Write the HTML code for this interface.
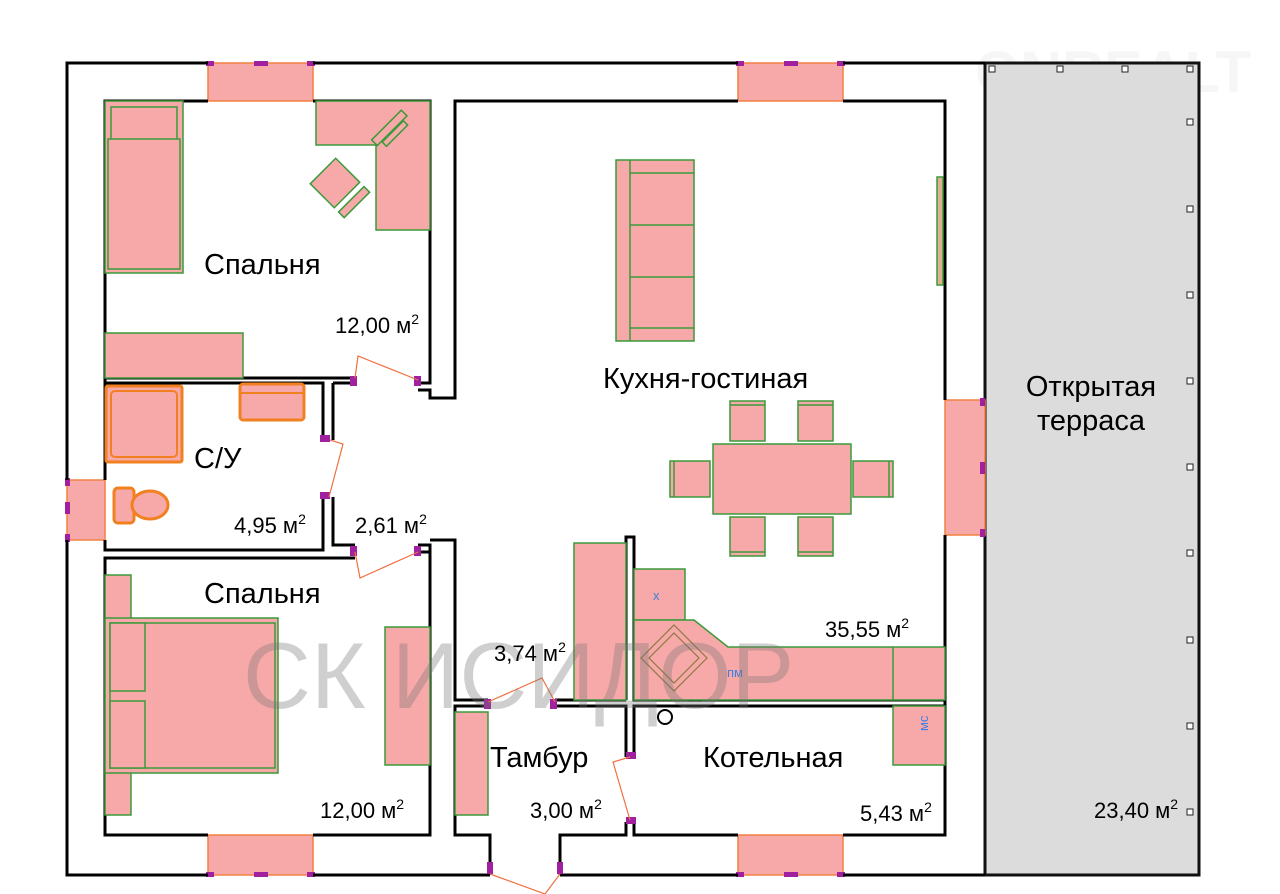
<!DOCTYPE html>
<html><head><meta charset="utf-8"><style>
html,body{margin:0;padding:0;background:#fff;}
svg{display:block}
text{font-family:"Liberation Sans",Arial,sans-serif;}
</style></head><body>
<svg width="1280" height="894" viewBox="0 0 1280 894" xmlns="http://www.w3.org/2000/svg">
<rect width="1280" height="894" fill="#fff"/>
<g opacity="0.07" fill="#888">
<text x="975" y="92" font-size="58" font-weight="bold">ONREALT</text>
<text x="990" y="104" font-size="16" letter-spacing="6">НЕДВИЖИМОСТЬ</text>
</g>
<rect x="985" y="63" width="214" height="812" fill="#dcdcdc" stroke="#111" stroke-width="3"/>
<g fill="#fff" stroke="#222" stroke-width="1">
<rect x="989" y="66" width="6" height="6"/><rect x="1057" y="66" width="6" height="6"/><rect x="1122" y="66" width="6" height="6"/><rect x="1187" y="66" width="6" height="6"/>
<rect x="1187" y="119" width="6" height="6"/><rect x="1187" y="206" width="6" height="6"/><rect x="1187" y="292" width="6" height="6"/><rect x="1187" y="378" width="6" height="6"/><rect x="1187" y="464" width="6" height="6"/><rect x="1187" y="550" width="6" height="6"/><rect x="1187" y="637" width="6" height="6"/><rect x="1187" y="723" width="6" height="6"/><rect x="1187" y="809" width="6" height="6"/>
</g>
<g fill="#f7a8a8" stroke="#f08040" stroke-width="1.5">
<rect x="208" y="63" width="105" height="38"/><rect x="738" y="63" width="105" height="38"/>
<rect x="208" y="835" width="105" height="40"/><rect x="738" y="835" width="105" height="40"/>
<rect x="945" y="400" width="40" height="135"/><rect x="67" y="480" width="38" height="60"/>
</g>
<g fill="#a020a0">
<rect x="206" y="61" width="8" height="5"/><rect x="254" y="61" width="14" height="5"/><rect x="307" y="61" width="8" height="5"/>
<rect x="736" y="61" width="8" height="5"/><rect x="784" y="61" width="14" height="5"/><rect x="837" y="61" width="8" height="5"/>
<rect x="206" y="872" width="8" height="5"/><rect x="254" y="872" width="14" height="5"/><rect x="307" y="872" width="8" height="5"/>
<rect x="736" y="872" width="8" height="5"/><rect x="784" y="872" width="14" height="5"/><rect x="837" y="872" width="8" height="5"/>
<rect x="980" y="398" width="5" height="8"/><rect x="980" y="462" width="5" height="12"/><rect x="980" y="529" width="5" height="8"/>
<rect x="65" y="478" width="5" height="8"/><rect x="65" y="502" width="5" height="12"/><rect x="65" y="534" width="5" height="8"/>
</g>
<g fill="none" stroke="#000" stroke-width="3" stroke-linejoin="miter">
<polyline points="208,63 67,63 67,480"/><polyline points="67,540 67,875 208,875"/>
<line x1="313" y1="63" x2="738" y2="63"/><line x1="843" y1="63" x2="985" y2="63"/>
<line x1="313" y1="875" x2="490" y2="875"/><line x1="560" y1="875" x2="738" y2="875"/><line x1="843" y1="875" x2="985" y2="875"/>
<polyline points="105,480 105,101 208,101"/><polyline points="313,101 430,101 430,383 418,383"/>
<polyline points="105,378 355,378"/>
<polyline points="418,390 430,390 430,398 455,398 455,101 738,101"/><polyline points="843,101 945,101 945,400"/>
<polyline points="945,535 945,835 843,835"/>
<polyline points="105,383 323,383 323,440"/><polyline points="323,497 323,550 105,550 105,540"/>
<polyline points="333,383 355,383"/><polyline points="333,383 333,440"/><polyline points="333,497 333,545 355,545"/>
<polyline points="355,558 105,558 105,835 208,835"/><polyline points="313,835 430,835 430,545 418,545"/>
<polyline points="418,552 430,552"/>
<polyline points="430,540 455,540 455,700 488,700"/>
<polyline points="488,706 455,706 455,835 490,835 490,875"/>
<polyline points="560,875 560,835 626,835 626,822"/>
<polyline points="626,757 626,706 555,706"/><line x1="555" y1="700" x2="626" y2="700"/>
<polyline points="626,700 626,537 634,537 634,700 945,700"/>
<polyline points="634,757 634,706 945,706"/><polyline points="634,822 634,835 738,835"/>
</g>
<g fill="#a020a0">
<rect x="350" y="376" width="7" height="10"/><rect x="414" y="376" width="7" height="10"/>
<rect x="320" y="435" width="10" height="7"/><rect x="320" y="492" width="10" height="7"/>
<rect x="350" y="546" width="7" height="10"/><rect x="414" y="546" width="7" height="10"/>
<rect x="484" y="699" width="7" height="10"/><rect x="550" y="699" width="7" height="10"/>
<rect x="626" y="752" width="10" height="7"/><rect x="626" y="817" width="10" height="7"/>
<rect x="487" y="862" width="6" height="12"/><rect x="557" y="862" width="6" height="12"/>
</g>
<g fill="none" stroke="#f07040" stroke-width="1.2">
<polyline points="355,378 358,356 418,380"/>
<polyline points="330,440 343,444 329,497"/>
<polyline points="355,552 360,578 418,552"/>
<polyline points="488,702 542,678 555,702"/>
<polyline points="630,757 613,762 630,820"/>
<polyline points="490,874 545,894 560,874"/>
</g>
<g fill="#f7a8a8" stroke="#3a9a3a" stroke-width="1.5">
<rect x="105" y="101" width="78" height="172"/><rect x="111" y="107" width="66" height="42"/><rect x="108" y="139" width="72" height="130"/>
<polygon points="316,101 430,101 430,230 376,230 376,145 316,145"/>
<rect x="105" y="333" width="138" height="45"/>
<g transform="rotate(-45 335 183)"><rect x="317" y="166" width="36" height="34"/><rect x="317" y="206" width="36" height="8"/></g>
<g transform="rotate(-45 390 130)" fill="none"><rect x="370" y="124" width="42" height="8"/><rect x="376" y="133" width="30" height="6"/></g>
<rect x="616" y="160" width="78" height="181"/><line x1="630" y1="160" x2="630" y2="341"/><line x1="630" y1="173" x2="694" y2="173"/><line x1="630" y1="225" x2="694" y2="225"/><line x1="630" y1="277" x2="694" y2="277"/><line x1="630" y1="328" x2="694" y2="328"/>
<rect x="937" y="177" width="6" height="108" fill="#e0b090"/>
<rect x="713" y="444" width="138" height="70"/>
<rect x="730" y="401" width="35" height="40"/><rect x="798" y="401" width="35" height="40"/>
<rect x="730" y="517" width="35" height="39"/><rect x="798" y="517" width="35" height="39"/>
<rect x="670" y="461" width="40" height="36"/><rect x="853" y="461" width="40" height="36"/>
<line x1="730" y1="405" x2="765" y2="405"/><line x1="798" y1="405" x2="833" y2="405"/>
<line x1="730" y1="552" x2="765" y2="552"/><line x1="798" y1="552" x2="833" y2="552"/>
<line x1="674" y1="461" x2="674" y2="497"/><line x1="889" y1="461" x2="889" y2="497"/>
<rect x="574" y="543" width="52" height="157"/>
<rect x="634" y="569" width="51" height="51"/>
<polygon points="634,620 694,620 728,647 945,647 945,700 634,700"/>
<line x1="893" y1="647" x2="893" y2="700"/>
<rect x="893" y="706" width="52" height="59"/>
<rect x="455" y="712" width="33" height="103"/>
<rect x="105" y="575" width="26" height="240"/>
<rect x="105" y="618" width="173" height="155"/><rect x="110" y="623" width="165" height="145"/>
<rect x="110" y="623" width="35" height="68"/><rect x="110" y="701" width="35" height="67"/>
<rect x="385" y="627" width="45" height="138"/>
</g>
<g fill="none" stroke="#8a7a40" stroke-width="1.2">
<polygon points="674,625 707,658 674,691 641,658"/><polygon points="674,633 699,658 674,683 649,658"/>
</g>
<g fill="#f7a8a8" stroke="#f08020" stroke-width="3">
<rect x="106" y="386" width="76" height="76" rx="2"/><rect x="111" y="391" width="66" height="66" rx="4" stroke-width="2"/>
<rect x="240" y="384" width="64" height="36" rx="3"/><line x1="240" y1="393" x2="304" y2="393" stroke-width="2"/>
<rect x="114" y="488" width="20" height="35" rx="4"/><ellipse cx="150" cy="505" rx="18" ry="14"/>
</g>
<circle cx="665" cy="717" r="7" fill="none" stroke="#000" stroke-width="2"/>
<g fill="#4080e0" font-size="13">
<text x="653" y="600">х</text>
<text x="727" y="677">пм</text>
<text x="924" y="745" transform="rotate(-90 919 736)">мс</text>
</g>
<text x="243" y="708" font-size="94" fill="#777" opacity="0.35">СК ИСИДОР</text>
<g fill="#000" font-size="29">
<text x="204" y="274">Спальня</text>
<text x="194" y="468">С/У</text>
<text x="204" y="603">Спальня</text>
<text x="603" y="388">Кухня-гостиная</text>
<text x="490" y="767">Тамбур</text>
<text x="703" y="767">Котельная</text>
<text x="1091" y="396" text-anchor="middle">Открытая</text>
<text x="1091" y="430" text-anchor="middle">терраса</text>
</g>
<g fill="#000" font-size="22">
<text x="335" y="333">12,00 м<tspan font-size="14" dy="-9">2</tspan></text>
<text x="234" y="533">4,95 м<tspan font-size="14" dy="-9">2</tspan></text>
<text x="355" y="533">2,61 м<tspan font-size="14" dy="-9">2</tspan></text>
<text x="494" y="661">3,74 м<tspan font-size="14" dy="-9">2</tspan></text>
<text x="825" y="637">35,55 м<tspan font-size="14" dy="-9">2</tspan></text>
<text x="320" y="818">12,00 м<tspan font-size="14" dy="-9">2</tspan></text>
<text x="530" y="818">3,00 м<tspan font-size="14" dy="-9">2</tspan></text>
<text x="860" y="821">5,43 м<tspan font-size="14" dy="-9">2</tspan></text>
<text x="1094" y="818">23,40 м<tspan font-size="14" dy="-9">2</tspan></text>
</g>
</svg>
</body></html>
